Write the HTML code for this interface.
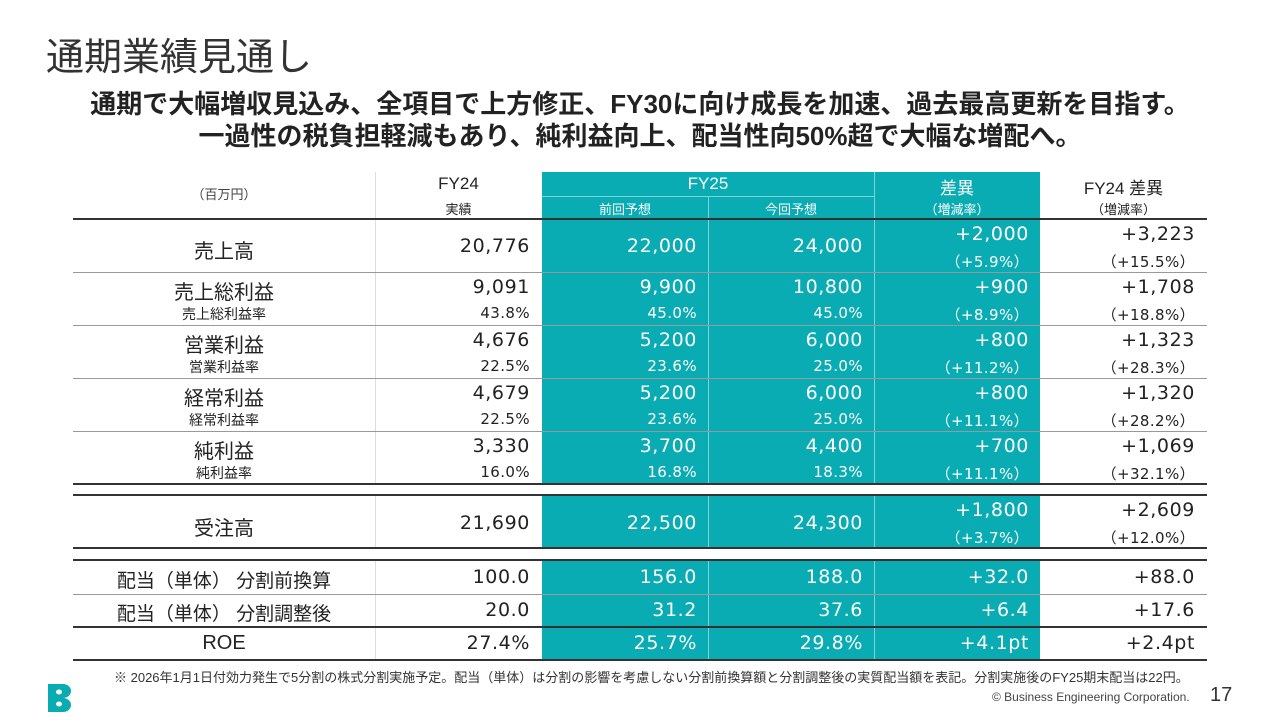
<!DOCTYPE html>
<html lang="ja"><head><meta charset="utf-8">
<style>
*{margin:0;padding:0;box-sizing:border-box}
body{width:1280px;height:720px;background:#fff;position:relative;overflow:hidden;font-family:"Liberation Sans","Noto Sans CJK JP",sans-serif;color:#222}
.a{position:absolute}
#title{left:46px;top:26px;font-size:38px;color:#333;white-space:nowrap}
#sub{left:0;width:1280px;top:88px;text-align:center;font-size:26px;font-weight:bold;line-height:32px;color:#222}
#teal{left:542px;top:172px;width:498px;height:488px;background:#0aacb4}
.hl{position:absolute;left:73px;width:1134px;height:2px;background:#333}
.tl{position:absolute;left:73px;width:1134px;height:1px;background:#999}
.vl{position:absolute;width:1px;background:#ddd}
.vt{position:absolute;width:1px;background:#7fd3d8}
.c{position:absolute;white-space:nowrap}
.L{left:73px;width:302px;text-align:center}
.A{left:375px;width:155px;text-align:right}
.B{left:542px;width:155px;text-align:right;color:#fff}
.C{left:708px;width:155px;text-align:right;color:#fff}
.D{left:874px;width:155px;text-align:right;color:#fff}
.E{left:1040px;width:155px;text-align:right}
.big{font-size:20px}
.sm{font-size:15px}
.A.big,.B.big,.C.big,.D.big,.E.big{font-family:"DejaVu Sans","Noto Sans CJK JP",sans-serif;font-size:19px;letter-spacing:0.6px}
.A.sm,.B.sm,.C.sm,.D.sm,.E.sm{font-family:"DejaVu Sans","Noto Sans CJK JP",sans-serif;font-size:15px;letter-spacing:0.4px}
.hd{font-size:17px;text-align:center}
.hs{font-size:13px;text-align:center}
</style></head><body>
<div class="a" id="title">通期業績見通し</div>
<div class="a" id="sub">通期で大幅増収見込み、全項目で上方修正、FY30に向け成長を加速、過去最高更新を目指す。<br>一過性の税負担軽減もあり、純利益向上、配当性向50%超で大幅な増配へ。</div>

<div class="a" id="teal"></div>
<div class="vl" style="left:375px;top:172px;height:488px"></div>
<div class="vt" style="left:708px;top:196px;height:464px"></div>
<div class="vt" style="left:874px;top:172px;height:488px"></div>
<div class="a" style="left:542px;top:196px;width:332px;height:1px;background:#7fd3d8"></div>

<!-- header -->
<div class="c L" style="top:184px;font-size:13px;color:#444">（百万円）</div>
<div class="c A hd" style="top:174px;width:167px">FY24</div>
<div class="c A hs" style="top:199px;width:167px">実績</div>
<div class="c B hd" style="top:174px;width:332px">FY25</div>
<div class="c B hs" style="top:199px;width:166px">前回予想</div>
<div class="c C hs" style="top:199px;width:166px">今回予想</div>
<div class="c D hd" style="top:174px;width:166px">差異</div>
<div class="c D hs" style="top:199px;width:166px">（増減率）</div>
<div class="c E hd" style="top:174px;width:167px;color:#222">FY24 差異</div>
<div class="c E hs" style="top:199px;width:167px">（増減率）</div>

<div class="hl" style="top:218px"></div>

<!-- 売上高 -->
<div class="c L big" style="top:235px">売上高</div>
<div class="c A big" style="top:235px">20,776</div>
<div class="c B big" style="top:235px">22,000</div>
<div class="c C big" style="top:235px">24,000</div>
<div class="c D big" style="top:223px">+2,000</div>
<div class="c D sm" style="top:251px">（+5.9%）</div>
<div class="c E big" style="top:223px">+3,223</div>
<div class="c E sm" style="top:251px">（+15.5%）</div>
<div class="tl" style="top:272px"></div>

<!-- 売上総利益 -->
<div class="c L big" style="top:276px">売上総利益</div>
<div class="c A big" style="top:276px">9,091</div>
<div class="c B big" style="top:276px">9,900</div>
<div class="c C big" style="top:276px">10,800</div>
<div class="c D big" style="top:276px">+900</div>
<div class="c E big" style="top:276px">+1,708</div>
<div class="c L sm" style="top:304px;font-size:14px">売上総利益率</div>
<div class="c A sm" style="top:304px">43.8%</div>
<div class="c B sm" style="top:304px">45.0%</div>
<div class="c C sm" style="top:304px">45.0%</div>
<div class="c D sm" style="top:304px">（+8.9%）</div>
<div class="c E sm" style="top:304px">（+18.8%）</div>
<div class="tl" style="top:325px"></div>

<!-- 営業利益 -->
<div class="c L big" style="top:329px">営業利益</div>
<div class="c A big" style="top:329px">4,676</div>
<div class="c B big" style="top:329px">5,200</div>
<div class="c C big" style="top:329px">6,000</div>
<div class="c D big" style="top:329px">+800</div>
<div class="c E big" style="top:329px">+1,323</div>
<div class="c L sm" style="top:357px;font-size:14px">営業利益率</div>
<div class="c A sm" style="top:357px">22.5%</div>
<div class="c B sm" style="top:357px">23.6%</div>
<div class="c C sm" style="top:357px">25.0%</div>
<div class="c D sm" style="top:357px">（+11.2%）</div>
<div class="c E sm" style="top:357px">（+28.3%）</div>
<div class="tl" style="top:378px"></div>

<!-- 経常利益 -->
<div class="c L big" style="top:382px">経常利益</div>
<div class="c A big" style="top:382px">4,679</div>
<div class="c B big" style="top:382px">5,200</div>
<div class="c C big" style="top:382px">6,000</div>
<div class="c D big" style="top:382px">+800</div>
<div class="c E big" style="top:382px">+1,320</div>
<div class="c L sm" style="top:410px;font-size:14px">経常利益率</div>
<div class="c A sm" style="top:410px">22.5%</div>
<div class="c B sm" style="top:410px">23.6%</div>
<div class="c C sm" style="top:410px">25.0%</div>
<div class="c D sm" style="top:410px">（+11.1%）</div>
<div class="c E sm" style="top:410px">（+28.2%）</div>
<div class="tl" style="top:431px"></div>

<!-- 純利益 -->
<div class="c L big" style="top:435px">純利益</div>
<div class="c A big" style="top:435px">3,330</div>
<div class="c B big" style="top:435px">3,700</div>
<div class="c C big" style="top:435px">4,400</div>
<div class="c D big" style="top:435px">+700</div>
<div class="c E big" style="top:435px">+1,069</div>
<div class="c L sm" style="top:463px;font-size:14px">純利益率</div>
<div class="c A sm" style="top:463px">16.0%</div>
<div class="c B sm" style="top:463px">16.8%</div>
<div class="c C sm" style="top:463px">18.3%</div>
<div class="c D sm" style="top:463px">（+11.1%）</div>
<div class="c E sm" style="top:463px">（+32.1%）</div>
<div class="hl" style="top:483px"></div>
<div class="a" style="left:73px;top:485px;width:1134px;height:9px;background:#fff"></div>
<div class="hl" style="top:494px"></div>

<!-- 受注高 -->
<div class="c L big" style="top:512px">受注高</div>
<div class="c A big" style="top:512px">21,690</div>
<div class="c B big" style="top:512px">22,500</div>
<div class="c C big" style="top:512px">24,300</div>
<div class="c D big" style="top:499px">+1,800</div>
<div class="c D sm" style="top:527px">（+3.7%）</div>
<div class="c E big" style="top:499px">+2,609</div>
<div class="c E sm" style="top:527px">（+12.0%）</div>
<div class="hl" style="top:547px"></div>
<div class="a" style="left:73px;top:549px;width:1134px;height:10px;background:#fff"></div>
<div class="hl" style="top:559px"></div>

<!-- 配当 -->
<div class="c L big" style="top:566px;font-size:19px">配当（単体） 分割前換算</div>
<div class="c A big" style="top:566px">100.0</div>
<div class="c B big" style="top:566px">156.0</div>
<div class="c C big" style="top:566px">188.0</div>
<div class="c D big" style="top:566px">+32.0</div>
<div class="c E big" style="top:566px">+88.0</div>
<div class="tl" style="top:594px"></div>
<div class="c L big" style="top:599px;font-size:19px">配当（単体） 分割調整後</div>
<div class="c A big" style="top:599px">20.0</div>
<div class="c B big" style="top:599px">31.2</div>
<div class="c C big" style="top:599px">37.6</div>
<div class="c D big" style="top:599px">+6.4</div>
<div class="c E big" style="top:599px">+17.6</div>
<div class="hl" style="top:626px"></div>
<div class="c L big" style="top:632px">ROE</div>
<div class="c A big" style="top:632px">27.4%</div>
<div class="c B big" style="top:632px">25.7%</div>
<div class="c C big" style="top:632px">29.8%</div>
<div class="c D big" style="top:632px">+4.1pt</div>
<div class="c E big" style="top:632px">+2.4pt</div>
<div class="hl" style="top:659px"></div>

<div class="c" style="left:114px;top:667px;font-size:13px;color:#333">※ 2026年1月1日付効力発生で5分割の株式分割実施予定。配当（単体）は分割の影響を考慮しない分割前換算額と分割調整後の実質配当額を表記。分割実施後のFY25期末配当は22円。</div>

<svg class="a" style="left:48px;top:684px" width="24" height="28" viewBox="0 0 24 28">
<path d="M0 0H15A8 7 0 0 1 15 14A8 7 0 0 1 15 28H0Z" fill="#0aacb4"/>
<ellipse cx="11" cy="8" rx="3" ry="2.5" fill="#fff"/><ellipse cx="11" cy="20" rx="3" ry="2.5" fill="#fff"/>
</svg>
<div class="c" style="left:992px;top:690px;font-size:12px;color:#444">© Business Engineering Corporation.</div>
<div class="c" style="left:1210px;top:684px;font-size:20px;color:#333">17</div>
</body></html>
